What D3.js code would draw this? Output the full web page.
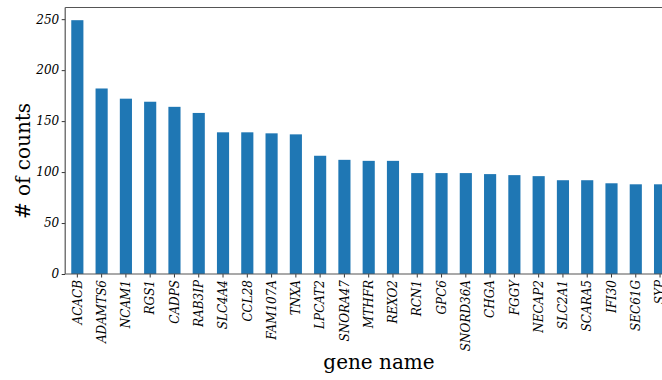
<!DOCTYPE html>
<html>
<head>
<meta charset="utf-8">
<script src="https://cdn.jsdelivr.net/npm/d3@7/dist/d3.min.js"></script>
<style>
  html, body { margin: 0; padding: 0; background: #fff; }
  svg { display: block; }
</style>
</head>
<body>
<svg id="chart" width="662" height="380"></svg>
<script>
// Gene names and their read counts, sorted by count
const genes = ["ACACB", "ADAMTS6", "NCAM1", "RGS1", "CADPS", "RAB3IP", "SLC4A4", "CCL28",
  "FAM107A", "TNXA", "LPCAT2", "SNORA47", "MTHFR", "REXO2", "RCN1", "GPC6", "SNORD36A",
  "CHGA", "FGGY", "NECAP2", "SLC2A1", "SCARA5", "IFI30", "SEC61G", "SYP"];
const counts = [249, 182, 172, 169, 164, 158, 139, 139, 138, 137, 116, 112, 111, 111,
  99, 99, 99, 98, 97, 96, 92, 92, 89, 88, 88];
const yTicks = [0, 50, 100, 150, 200, 250];

const serif = "'DejaVu Serif', serif";
const svg = d3.select("#chart");
const plotLeft = 65.2, plotBottom = 274, plotTop = 7.5;
const step = 24.28;
const plotRight = plotLeft + genes.length * step + step; // plot area runs past the page edge

const x = d3.scaleBand()
  .domain(genes)
  .range([plotLeft, plotLeft + genes.length * step])
  .paddingInner(0.5)
  .paddingOuter(0.25);

const yMax = d3.max(counts) * 1.05;
const y = d3.scaleLinear().domain([0, yMax]).range([plotBottom, plotTop]);

// bars
svg.append("g")
  .selectAll("rect")
  .data(genes)
  .join("rect")
  .attr("x", (d) => x(d))
  .attr("width", x.bandwidth())
  .attr("y", (d, i) => y(counts[i]))
  .attr("height", (d, i) => plotBottom - y(counts[i]))
  .attr("fill", "#1f77b4");

function styleTicks(g) {
  g.select(".domain").remove();
  g.selectAll(".tick line").attr("stroke", "#000").attr("stroke-width", 0.8);
  g.selectAll(".tick text")
    .style("font-family", serif)
    .style("font-style", "italic")
    .style("font-size", "12px")
    .style("fill", "#000");
}

// y axis
svg.append("g")
  .attr("transform", `translate(${plotLeft},0)`)
  .call(d3.axisLeft(y).tickValues(yTicks).tickSize(3.5).tickPadding(2.5).tickSizeOuter(0))
  .call(styleTicks);

// x axis
const xAxis = svg.append("g")
  .attr("transform", `translate(0,${plotBottom})`)
  .call(d3.axisBottom(x).tickSize(3.5).tickSizeOuter(0))
  .call(styleTicks);
xAxis.selectAll(".tick text")
  .attr("transform", "rotate(-90)")
  .attr("text-anchor", "end")
  .attr("x", -6)
  .attr("y", 0)
  .attr("dy", "0.35em");

// frame
const frame = svg.append("g").attr("fill", "none").attr("stroke", "#555").attr("stroke-width", 1.2);
frame.append("line").attr("x1", plotLeft).attr("x2", plotLeft).attr("y1", plotTop).attr("y2", plotBottom);
frame.append("line").attr("x1", plotLeft).attr("x2", plotRight).attr("y1", plotTop).attr("y2", plotTop);
frame.append("line").attr("x1", plotLeft).attr("x2", plotRight).attr("y1", plotBottom).attr("y2", plotBottom);

// axis titles
svg.append("text")
  .attr("transform", "translate(30,161) rotate(-90)")
  .attr("text-anchor", "middle")
  .style("font-family", serif)
  .style("font-size", "20px")
  .text("# of counts");

svg.append("text")
  .attr("x", 379)
  .attr("y", 369)
  .attr("text-anchor", "middle")
  .style("font-family", serif)
  .style("font-size", "20px")
  .text("gene name");
</script>
</body>
</html>
